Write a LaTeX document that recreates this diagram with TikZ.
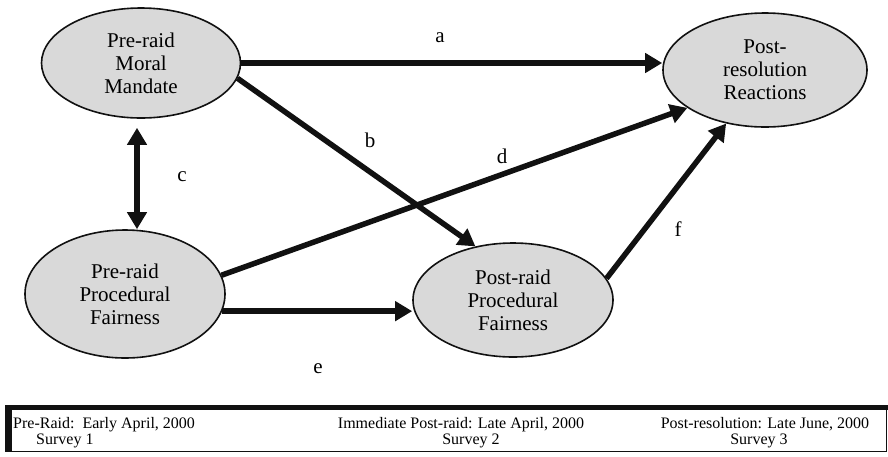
\documentclass[tikz,border=0pt]{standalone}
\usepackage{fontspec}
\setmainfont{Liberation Serif}
\usetikzlibrary{shapes.geometric,arrows.meta}
\definecolor{nodegray}{HTML}{D9D9D9}
\definecolor{ink}{HTML}{111111}
\tikzset{
  var/.style={ellipse, draw=ink, line width=1.6pt, fill=nodegray, inner sep=0pt,
    align=center, font=\fontsize{21}{23}\selectfont},
  arr/.style={draw=ink, line width=5.5pt, -{Triangle[length=17pt,width=19pt]}},
  dbl/.style={draw=ink, line width=5.5pt, {Triangle[length=17pt,width=19pt]}-{Triangle[length=17pt,width=19pt]}},
  lab/.style={font=\fontsize{21}{23}\selectfont, inner sep=0pt},
  foot/.style={font=\fontsize{16}{16}\selectfont, inner sep=0pt},
}
\begin{document}
\begin{tikzpicture}[x=1pt,y=-1pt]
\useasboundingbox (0,0) rectangle (888,456);
% variables
\node[var, minimum width=199pt, minimum height=110pt] (mm) at (141,63) {Pre-raid\\Moral\\Mandate};
\node[var, minimum width=204pt, minimum height=114pt] (rr) at (765,70) {Post-\\resolution\\Reactions};
\node[var, minimum width=200pt, minimum height=128pt] (pf) at (125,294) {Pre-raid\\Procedural\\Fairness};
\node[var, minimum width=200pt, minimum height=114pt] (pp) at (513,300) {Post-raid\\Procedural\\Fairness};
% paths
\draw[arr] (mm.east) -- (mm.east -| rr.west);
\draw[arr] (mm.-9) -- (pp.125);
\draw[dbl, shorten <=9pt] ([xshift=-4pt]mm.south) -- ([xshift=-4pt]mm.south |- pf.north);
\draw[arr] (pf.11) -- (rr.206);
\draw[arr] (pf.-10) -- (pf.-10 -| pp.west);
\draw[arr] (pp.13) -- (rr.234);
% labels
\node[lab] (la) at (440,38) {a};
\node[lab] (lb) at (370,140) {b};
\node[lab] (lc) at (182,177) {c};
\node[lab] (ld) at (502,156) {d};
\node[lab] (le) at (318,369) {e};
\node[lab] (lf) at (678,229) {f};
% timeline box
\draw[draw=ink, line width=1.8pt] (8,407) rectangle (886.5,451.5);
\draw[draw=ink, line width=5pt] (5,407.5) -- (888,407.5);
\draw[draw=ink, line width=6.5pt] (8.3,405) -- (8.3,452);
\node[foot, anchor=base west] (t1) at (13,428) {Pre-Raid:\ \ Early April, 2000};
\node[foot, anchor=base west] (s1) at (36,444) {Survey 1};
\node[foot, anchor=base] (t2) at (461,428) {Immediate Post-raid: Late April, 2000};
\node[foot, anchor=base] (s2) at (471,444) {Survey 2};
\node[foot, anchor=base] (t3) at (765,428) {Post-resolution: Late June, 2000};
\node[foot, anchor=base] (s3) at (759,444) {Survey 3};
\end{tikzpicture}
\end{document}
